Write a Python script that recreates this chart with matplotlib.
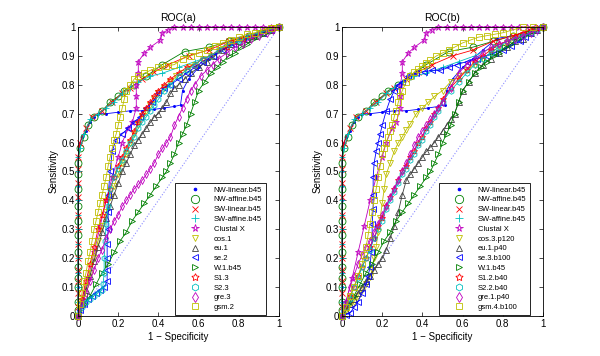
import matplotlib
matplotlib.use("Agg")
import matplotlib.pyplot as plt
from matplotlib.lines import Line2D
from matplotlib.ticker import FormatStrFormatter

plt.rcParams["font.family"] = ["Liberation Sans", "DejaVu Sans"]

# ---- series shared by both panels (b45 aligners, Clustal X) ----
nw_linear_x = [0, 0, 0, 0, 0, 0, 0, 0, 0, 0, 0, 0, 0.01, 0.02, 0.04, 0.06, 0.08, 0.1, 0.14, 0.2,
               0.26, 0.32, 0.38, 0.43, 0.48, 0.51, 0.52, 0.55, 0.6, 0.65, 0.7, 0.77, 0.85, 0.95, 1]
nw_linear_y = [0, 0.05, 0.1, 0.15, 0.2, 0.25, 0.3, 0.35, 0.4, 0.45, 0.5, 0.55, 0.6, 0.62, 0.64, 0.67,
               0.69, 0.7, 0.7, 0.705, 0.71, 0.71, 0.715, 0.72, 0.725, 0.73, 0.78, 0.82, 0.86, 0.89,
               0.92, 0.96, 0.97, 0.99, 1]

nw_affine_x = [0, 0, 0, 0, 0, 0, 0, 0, 0, 0, 0, 0, 0.01, 0.03, 0.05, 0.08, 0.12, 0.16, 0.2, 0.23,
               0.28, 0.34, 0.42, 0.53, 0.65, 0.75, 0.85, 0.95, 1]
nw_affine_y = [0.02, 0.05, 0.1, 0.13, 0.17, 0.22, 0.28, 0.33, 0.38, 0.44, 0.49, 0.53, 0.58, 0.62,
               0.66, 0.69, 0.71, 0.74, 0.76, 0.78, 0.8, 0.83, 0.87, 0.915, 0.93, 0.95, 0.97, 0.99, 1]

sw_linear_x = [0, 0, 0, 0, 0, 0, 0, 0, 0, 0, 0, 0, 0.01, 0.04, 0.07, 0.12, 0.17, 0.22, 0.26, 0.32,
               0.38, 0.45, 0.55, 0.65, 0.75, 0.85, 0.95, 1]
sw_linear_y = [0.03, 0.08, 0.12, 0.16, 0.2, 0.25, 0.3, 0.35, 0.41, 0.46, 0.51, 0.55, 0.6, 0.65,
               0.69, 0.71, 0.74, 0.77, 0.79, 0.82, 0.845, 0.87, 0.9, 0.92, 0.95, 0.97, 0.99, 1]

sw_affine_x = [0, 0, 0, 0, 0, 0, 0, 0, 0, 0, 0, 0, 0.01, 0.03, 0.06, 0.1, 0.14, 0.18, 0.22, 0.26,
               0.3, 0.36, 0.42, 0.5, 0.58, 0.66, 0.75, 0.85, 0.95, 1]
sw_affine_y = [0, 0.05, 0.1, 0.15, 0.2, 0.25, 0.3, 0.35, 0.4, 0.45, 0.5, 0.55, 0.58, 0.63, 0.68,
               0.7, 0.72, 0.74, 0.77, 0.79, 0.81, 0.83, 0.84, 0.86, 0.88, 0.9, 0.93, 0.96, 0.99, 1]

clustal_x = [0, 0.02, 0.05, 0.08, 0.11, 0.14, 0.17, 0.2, 0.22, 0.25, 0.27, 0.29, 0.29, 0.29, 0.3,
             0.3, 0.33, 0.36, 0.41, 0.42, 0.45, 0.48, 0.52, 0.56, 0.6, 0.64, 0.68, 0.72, 0.76,
             0.8, 0.84, 0.88, 0.92, 0.96, 1]
clustal_y = [0, 0.05, 0.13, 0.22, 0.31, 0.4, 0.48, 0.55, 0.6, 0.65, 0.67, 0.72, 0.76, 0.8, 0.84,
             0.88, 0.91, 0.93, 0.955, 0.98, 0.99, 1, 1, 1, 1, 1, 1, 1, 1, 1, 1, 1, 1, 1, 1]

w_b45_x = [0, 0.03, 0.06, 0.09, 0.12, 0.15, 0.18, 0.21, 0.24, 0.27, 0.3, 0.33, 0.36, 0.39, 0.42,
           0.44, 0.46, 0.48, 0.5, 0.52, 0.54, 0.56, 0.58, 0.6, 0.63, 0.66, 0.69, 0.72, 0.75, 0.78,
           0.81, 0.84, 0.87, 0.9, 0.93, 0.96, 1]
w_b45_y = [0, 0.04, 0.07, 0.11, 0.15, 0.18, 0.22, 0.26, 0.29, 0.33, 0.36, 0.39, 0.42, 0.45, 0.48,
           0.5, 0.53, 0.56, 0.6, 0.63, 0.66, 0.7, 0.74, 0.78, 0.81, 0.84, 0.86, 0.88, 0.9, 0.91,
           0.93, 0.94, 0.96, 0.97, 0.98, 0.99, 1]

# ---- panel (a) ----
cos1_x = [0, 0.02, 0.04, 0.06, 0.08, 0.1, 0.12, 0.14, 0.16, 0.18, 0.2, 0.22, 0.24, 0.26, 0.28,
          0.3, 0.32, 0.34, 0.36, 0.38, 0.4, 0.43, 0.46, 0.49, 0.52, 0.55, 0.58, 0.62, 0.66, 0.7,
          0.74, 0.78, 0.82, 0.86, 0.9, 0.94, 0.97, 1]
cos1_y = [0, 0.05, 0.1, 0.15, 0.2, 0.26, 0.31, 0.36, 0.41, 0.45, 0.49, 0.53, 0.56, 0.6, 0.63,
          0.66, 0.69, 0.71, 0.73, 0.75, 0.77, 0.79, 0.81, 0.83, 0.84, 0.86, 0.87, 0.89, 0.9, 0.92,
          0.93, 0.95, 0.96, 0.97, 0.98, 0.99, 0.995, 1]
eu1_x = [0, 0.02, 0.04, 0.06, 0.08, 0.1, 0.12, 0.14, 0.16, 0.18, 0.2, 0.22, 0.24, 0.26, 0.28,
         0.3, 0.32, 0.34, 0.36, 0.38, 0.4, 0.42, 0.44, 0.46, 0.48, 0.5, 0.53, 0.56, 0.6, 0.64,
         0.68, 0.72, 0.76, 0.8, 0.84, 0.88, 0.92, 0.96, 1]
eu1_y = [0, 0.04, 0.09, 0.14, 0.19, 0.24, 0.29, 0.34, 0.38, 0.42, 0.46, 0.5, 0.53, 0.56, 0.59,
         0.61, 0.63, 0.65, 0.67, 0.69, 0.7, 0.72, 0.74, 0.77, 0.79, 0.8, 0.82, 0.84, 0.86, 0.88,
         0.9, 0.92, 0.94, 0.95, 0.96, 0.97, 0.98, 0.99, 1]
se2_x = [0, 0.01, 0.03, 0.05, 0.07, 0.09, 0.11, 0.13, 0.145, 0.145, 0.145, 0.145, 0.15, 0.15,
         0.15, 0.16, 0.17, 0.19, 0.22, 0.25, 0.28, 0.31, 0.34, 0.37, 0.4, 0.43, 0.46, 0.5, 0.54,
         0.58, 0.62, 0.67, 0.72, 0.77, 0.82, 0.87, 0.92, 0.96, 1]
se2_y = [0, 0.02, 0.04, 0.06, 0.07, 0.08, 0.09, 0.1, 0.12, 0.16, 0.2, 0.25, 0.3, 0.36, 0.42, 0.5,
         0.57, 0.61, 0.63, 0.65, 0.67, 0.69, 0.72, 0.74, 0.77, 0.79, 0.8, 0.82, 0.84, 0.86, 0.88,
         0.9, 0.92, 0.94, 0.96, 0.97, 0.98, 0.99, 1]
s13_x = [0, 0.02, 0.04, 0.06, 0.08, 0.1, 0.12, 0.14, 0.16, 0.18, 0.2, 0.22, 0.24, 0.26, 0.28,
         0.3, 0.32, 0.34, 0.36, 0.38, 0.4, 0.43, 0.46, 0.5, 0.54, 0.58, 0.62, 0.66, 0.7, 0.74,
         0.78, 0.82, 0.86, 0.9, 0.94, 0.97, 1]
s13_y = [0, 0.06, 0.12, 0.18, 0.24, 0.3, 0.35, 0.4, 0.44, 0.48, 0.52, 0.55, 0.58, 0.61, 0.64,
         0.67, 0.7, 0.72, 0.74, 0.76, 0.78, 0.8, 0.82, 0.84, 0.86, 0.87, 0.89, 0.9, 0.92, 0.93,
         0.95, 0.96, 0.97, 0.98, 0.99, 0.995, 1]
s23_x = [0, 0.02, 0.04, 0.06, 0.08, 0.1, 0.12, 0.125, 0.13, 0.13, 0.135, 0.14, 0.15, 0.16, 0.18,
         0.2, 0.22, 0.24, 0.26, 0.28, 0.3, 0.32, 0.34, 0.36, 0.38, 0.4, 0.43, 0.46, 0.5, 0.54,
         0.58, 0.62, 0.66, 0.7, 0.75, 0.8, 0.85, 0.9, 0.95, 1]
s23_y = [0, 0.03, 0.05, 0.06, 0.07, 0.08, 0.09, 0.11, 0.15, 0.2, 0.26, 0.32, 0.38, 0.44, 0.48,
         0.51, 0.54, 0.57, 0.6, 0.62, 0.65, 0.67, 0.69, 0.71, 0.73, 0.75, 0.78, 0.8, 0.83, 0.85,
         0.87, 0.89, 0.9, 0.92, 0.94, 0.95, 0.97, 0.98, 0.99, 1]
gre3_x = [0, 0.02, 0.04, 0.06, 0.08, 0.1, 0.12, 0.14, 0.16, 0.18, 0.2, 0.22, 0.24, 0.26, 0.28,
          0.3, 0.32, 0.34, 0.36, 0.38, 0.4, 0.42, 0.44, 0.46, 0.48, 0.5, 0.52, 0.54, 0.56, 0.58,
          0.61, 0.64, 0.67, 0.7, 0.74, 0.78, 0.82, 0.86, 0.9, 0.94, 0.97, 1]
gre3_y = [0, 0.04, 0.08, 0.12, 0.16, 0.2, 0.23, 0.27, 0.3, 0.33, 0.35, 0.38, 0.4, 0.42, 0.44,
          0.455, 0.47, 0.49, 0.51, 0.53, 0.56, 0.58, 0.6, 0.62, 0.66, 0.69, 0.72, 0.75, 0.78, 0.8,
          0.83, 0.85, 0.87, 0.89, 0.91, 0.93, 0.94, 0.96, 0.97, 0.98, 0.99, 1]
gsm2_x = [0, 0.01, 0.02, 0.03, 0.04, 0.05, 0.06, 0.07, 0.08, 0.09, 0.1, 0.11, 0.12, 0.13, 0.14,
          0.15, 0.16, 0.17, 0.18, 0.19, 0.2, 0.21, 0.22, 0.23, 0.24, 0.26, 0.28, 0.3, 0.33, 0.36,
          0.4, 0.44, 0.48, 0.52, 0.56, 0.6, 0.64, 0.68, 0.72, 0.76, 0.8, 0.84, 0.88, 0.92, 0.96, 1]
gsm2_y = [0, 0.04, 0.08, 0.12, 0.15, 0.19, 0.22, 0.26, 0.3, 0.33, 0.36, 0.39, 0.42, 0.45, 0.48,
          0.52, 0.55, 0.58, 0.61, 0.63, 0.66, 0.69, 0.72, 0.75, 0.78, 0.8, 0.82, 0.83, 0.84, 0.85,
          0.86, 0.865, 0.87, 0.89, 0.9, 0.91, 0.92, 0.935, 0.945, 0.955, 0.965, 0.975, 0.98, 0.99,
          0.995, 1]

# ---- panel (b) ----
cos3_x = [0, 0.02, 0.04, 0.06, 0.08, 0.1, 0.12, 0.14, 0.15, 0.16, 0.17, 0.18, 0.19, 0.2, 0.21,
          0.22, 0.24, 0.26, 0.28, 0.3, 0.32, 0.34, 0.37, 0.4, 0.43, 0.46, 0.5, 0.54, 0.58, 0.62,
          0.66, 0.7, 0.74, 0.78, 0.82, 0.86, 0.9, 0.95, 1]
cos3_y = [0, 0.02, 0.04, 0.05, 0.07, 0.09, 0.11, 0.135, 0.16, 0.2, 0.24, 0.29, 0.34, 0.39, 0.44,
          0.49, 0.53, 0.57, 0.6, 0.62, 0.645, 0.665, 0.7, 0.72, 0.74, 0.76, 0.78, 0.81, 0.83,
          0.85, 0.87, 0.89, 0.91, 0.93, 0.94, 0.96, 0.97, 0.99, 1]
eu1p_x = [0, 0.02, 0.04, 0.06, 0.08, 0.1, 0.12, 0.14, 0.16, 0.18, 0.2, 0.22, 0.24, 0.26, 0.28,
          0.3, 0.32, 0.34, 0.36, 0.38, 0.4, 0.42, 0.44, 0.46, 0.48, 0.5, 0.52, 0.54, 0.56, 0.58,
          0.6, 0.63, 0.66, 0.7, 0.74, 0.78, 0.82, 0.86, 0.9, 0.94, 0.97, 1]
eu1p_y = [0, 0.02, 0.04, 0.06, 0.08, 0.1, 0.12, 0.14, 0.16, 0.18, 0.2, 0.23, 0.27, 0.31, 0.36,
          0.42, 0.47, 0.49, 0.51, 0.53, 0.55, 0.57, 0.585, 0.6, 0.62, 0.64, 0.66, 0.68, 0.7, 0.74,
          0.78, 0.81, 0.84, 0.87, 0.89, 0.91, 0.93, 0.95, 0.96, 0.98, 0.99, 1]
se3_x = [0, 0.02, 0.04, 0.06, 0.08, 0.1, 0.12, 0.13, 0.14, 0.145, 0.15, 0.15, 0.155, 0.155,
         0.155, 0.16, 0.17, 0.18, 0.19, 0.2, 0.22, 0.24, 0.26, 0.28, 0.3, 0.33, 0.37, 0.41, 0.45,
         0.49, 0.53, 0.57, 0.62, 0.67, 0.72, 0.76, 0.8, 0.84, 0.885, 0.91, 0.935, 0.96, 0.98, 1]
se3_y = [0, 0.005, 0.01, 0.03, 0.05, 0.08, 0.11, 0.14, 0.17, 0.22, 0.27, 0.32, 0.37, 0.42, 0.48,
         0.53, 0.57, 0.6, 0.63, 0.66, 0.71, 0.75, 0.78, 0.8, 0.81, 0.83, 0.84, 0.845, 0.85, 0.85,
         0.86, 0.87, 0.88, 0.89, 0.9, 0.91, 0.92, 0.935, 0.95, 0.965, 0.98, 0.99, 1, 1]
s12_x = [0, 0.02, 0.04, 0.06, 0.08, 0.1, 0.12, 0.14, 0.16, 0.18, 0.2, 0.22, 0.24, 0.26, 0.28,
         0.3, 0.32, 0.34, 0.36, 0.38, 0.4, 0.42, 0.44, 0.46, 0.48, 0.5, 0.54, 0.58, 0.62, 0.66,
         0.7, 0.74, 0.78, 0.82, 0.86, 0.9, 0.94, 0.97, 1]
s12_y = [0, 0.03, 0.07, 0.1, 0.14, 0.17, 0.2, 0.24, 0.27, 0.31, 0.34, 0.38, 0.41, 0.44, 0.47,
         0.5, 0.52, 0.55, 0.57, 0.6, 0.62, 0.65, 0.67, 0.7, 0.72, 0.75, 0.79, 0.82, 0.85, 0.88,
         0.9, 0.92, 0.94, 0.95, 0.97, 0.98, 0.99, 0.995, 1]
s22_x = [0, 0.02, 0.04, 0.06, 0.08, 0.1, 0.12, 0.14, 0.16, 0.18, 0.2, 0.22, 0.24, 0.26, 0.28,
         0.3, 0.32, 0.34, 0.36, 0.38, 0.4, 0.42, 0.44, 0.46, 0.48, 0.5, 0.54, 0.58, 0.62, 0.66,
         0.7, 0.74, 0.78, 0.82, 0.86, 0.9, 0.94, 0.97, 1]
s22_y = [0, 0.03, 0.06, 0.1, 0.13, 0.17, 0.2, 0.23, 0.27, 0.3, 0.33, 0.37, 0.4, 0.43, 0.46, 0.49,
         0.51, 0.54, 0.56, 0.59, 0.61, 0.64, 0.66, 0.69, 0.71, 0.74, 0.78, 0.81, 0.84, 0.87,
         0.89, 0.91, 0.93, 0.95, 0.96, 0.97, 0.98, 0.99, 1]
gre1_x = [0, 0.02, 0.04, 0.06, 0.08, 0.1, 0.12, 0.14, 0.16, 0.18, 0.2, 0.22, 0.24, 0.26, 0.28,
          0.3, 0.32, 0.34, 0.36, 0.38, 0.4, 0.42, 0.44, 0.46, 0.48, 0.5, 0.54, 0.58, 0.62, 0.66,
          0.7, 0.74, 0.78, 0.82, 0.86, 0.9, 0.94, 0.97, 1]
gre1_y = [0, 0.05, 0.1, 0.14, 0.18, 0.21, 0.24, 0.26, 0.29, 0.32, 0.35, 0.38, 0.41, 0.44, 0.47,
          0.5, 0.53, 0.56, 0.59, 0.62, 0.64, 0.66, 0.68, 0.7, 0.72, 0.74, 0.79, 0.84, 0.87, 0.89,
          0.91, 0.93, 0.94, 0.95, 0.96, 0.97, 0.98, 0.99, 1]
gsm4_x = [0, 0.02, 0.04, 0.06, 0.08, 0.1, 0.11, 0.12, 0.13, 0.14, 0.15, 0.16, 0.17, 0.18, 0.19,
          0.2, 0.21, 0.22, 0.23, 0.24, 0.25, 0.26, 0.27, 0.28, 0.29, 0.3, 0.32, 0.34, 0.36, 0.38,
          0.4, 0.42, 0.44, 0.47, 0.5, 0.53, 0.56, 0.6, 0.64, 0.68, 0.72, 0.76, 0.8, 0.85, 0.9,
          0.95, 1]
gsm4_y = [0, 0.03, 0.07, 0.1, 0.14, 0.18, 0.21, 0.24, 0.28, 0.32, 0.36, 0.4, 0.44, 0.48, 0.52,
          0.56, 0.58, 0.6, 0.62, 0.64, 0.66, 0.69, 0.71, 0.74, 0.76, 0.78, 0.81, 0.83, 0.845,
          0.855, 0.865, 0.875, 0.885, 0.9, 0.91, 0.92, 0.93, 0.945, 0.955, 0.965, 0.97, 0.975,
          0.98, 0.99, 1, 1, 1]

labels_a = ["NW-linear.b45", "NW-affine.b45", "SW-linear.b45", "SW-affine.b45", "Clustal X",
            "cos.1", "eu.1", "se.2", "W.1.b45", "S1.3", "S2.3", "gre.3", "gsm.2"]
labels_b = ["NW-linear.b45", "NW-affine.b45", "SW-linear.b45", "SW-affine.b45", "Clustal X",
            "cos.3.p120", "eu.1.p40", "se.3.b100", "W.1.b45", "S1.2.b40", "S2.2.b40",
            "gre.1.p40", "gsm.4.b100"]

series_a = [(nw_linear_x, nw_linear_y), (nw_affine_x, nw_affine_y), (sw_linear_x, sw_linear_y),
            (sw_affine_x, sw_affine_y), (clustal_x, clustal_y), (cos1_x, cos1_y), (eu1_x, eu1_y),
            (se2_x, se2_y), (w_b45_x, w_b45_y), (s13_x, s13_y), (s23_x, s23_y),
            (gre3_x, gre3_y), (gsm2_x, gsm2_y)]
series_b = [(nw_linear_x, nw_linear_y), (nw_affine_x, nw_affine_y), (sw_linear_x, sw_linear_y),
            (sw_affine_x, sw_affine_y), (clustal_x, clustal_y), (cos3_x, cos3_y),
            (eu1p_x, eu1p_y), (se3_x, se3_y), (w_b45_x, w_b45_y), (s12_x, s12_y),
            (s22_x, s22_y), (gre1_x, gre1_y), (gsm4_x, gsm4_y)]

# matlab's old colour order, one marker per method
colores = [(0, 0, 1), (0, 0.5, 0), (1, 0, 0), (0, 0.75, 0.75), (0.75, 0, 0.75),
           (0.75, 0.75, 0), (0.25, 0.25, 0.25)]
marcadores = [".", "o", "x", "+", "*", "v", "^", "<", ">", (5, 1, 0), "h", "d", "s"]
tamanos = [3, 5, 4, 4.5, 4.5, 4, 4, 4, 4, 4.5, 4, 4, 3.8]


def panel(ax, series, labels, titulo):
    ax.plot([0, 1], [0, 1], linestyle=":", color="#8c8cff", lw=0.8)
    handles = []
    for i, (xs, ys) in enumerate(series):
        c = colores[i % 7]
        m = marcadores[i]
        relleno = c if m == "." else "none"
        ax.plot(xs, ys, color=c, lw=0.6, marker=m, markersize=tamanos[i],
                markerfacecolor=relleno, markeredgecolor=c, markeredgewidth=0.6, clip_on=False)
        handles.append(Line2D([], [], linestyle="none", marker=m, color=c,
                              markersize=tamanos[i] + 1, markerfacecolor=relleno,
                              markeredgewidth=0.6, label=labels[i]))
    ax.set_xlim(0, 1)
    ax.set_ylim(0, 1)
    ax.set_xticks([0, 0.2, 0.4, 0.6, 0.8, 1])
    ax.set_yticks([0, 0.1, 0.2, 0.3, 0.4, 0.5, 0.6, 0.7, 0.8, 0.9, 1])
    ax.xaxis.set_major_formatter(FormatStrFormatter("%g"))
    ax.yaxis.set_major_formatter(FormatStrFormatter("%g"))
    ax.tick_params(direction="in", length=3, width=0.5, labelsize=7, top=True, right=True, pad=2)
    for s in ax.spines.values():
        s.set_linewidth(0.6)
    ax.set_title(titulo, fontsize=7.5, pad=4)
    ax.set_xlabel("1 \u2212 Specificity", fontsize=7, labelpad=2)
    ax.set_ylabel("Sensitivity", fontsize=7, labelpad=2)
    leg = ax.legend(handles=handles, loc="lower right", bbox_to_anchor=(0.935, 0.005),
                    fontsize=5.5, handlelength=4.5, handletextpad=0.2, labelspacing=0.32,
                    borderpad=0.45, borderaxespad=0, fancybox=False, framealpha=1,
                    edgecolor="black")
    leg.get_frame().set_linewidth(0.6)


fig = plt.figure(figsize=(6, 3.56), dpi=100)
ax1 = fig.add_axes([0.13, 0.1124, 0.335, 0.8118])
ax2 = fig.add_axes([0.57, 0.1124, 0.335, 0.8118])
panel(ax1, series_a, labels_a, "ROC(a)")
panel(ax2, series_b, labels_b, "ROC(b)")

fig.savefig("out.png", dpi=100)
